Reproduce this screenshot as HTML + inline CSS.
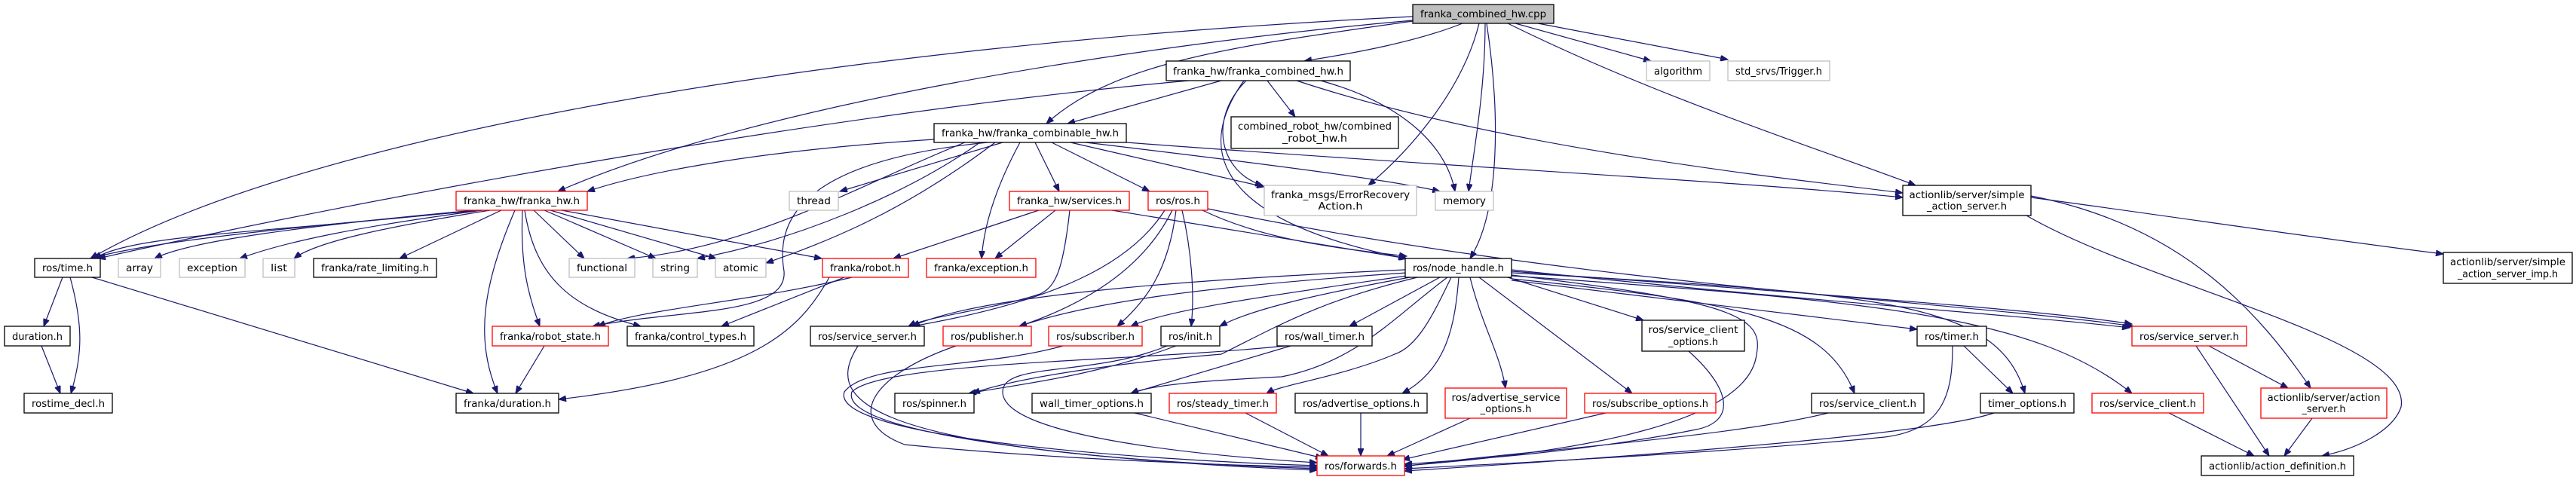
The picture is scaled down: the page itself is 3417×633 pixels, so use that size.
<!DOCTYPE html>
<html><head><meta charset="utf-8"><style>
html,body{margin:0;padding:0;background:#fff;}
svg{display:block;}
text{font-family:"DejaVu Sans","Liberation Sans",sans-serif;font-size:13px;fill:#000;}
.e{fill:none;stroke:#191970;stroke-width:1.2;marker-end:url(#a);}
.b{fill:#fff;stroke:#000;stroke-width:1.3;}
.r{fill:#fff;stroke:#ff0000;stroke-width:1.3;}
.g{fill:#fff;stroke:#bfbfbf;stroke-width:1.3;}
</style></head><body>
<svg width="3417" height="633" viewBox="0 0 3417 633" xmlns="http://www.w3.org/2000/svg">
<defs><marker id="a" markerUnits="userSpaceOnUse" markerWidth="11" markerHeight="8" refX="10" refY="4" orient="auto"><path d="M0,0 L10,4 L0,8 z" fill="#191970" stroke="#191970"/></marker></defs>
<g>
<path class="e" d="M1940,31 C1880,55 1800,70 1730,81"/>
<path class="e" d="M1874,28 C1650,60 1480,80 1388,164"/>
<path class="e" d="M1874,27 C1500,60 1000,140 740,254"/>
<path class="e" d="M1874,22 C1100,60 400,180 120,343"/>
<path class="e" d="M1962,31 C1940,120 1870,200 1815,246"/>
<path class="e" d="M1970,31 C1970,120 1955,200 1948,254"/>
<path class="e" d="M1972,31 C1990,150 1990,280 1950,343"/>
<path class="e" d="M2010,31 L2190,81"/>
<path class="e" d="M2040,31 L2292,79"/>
<path class="e" d="M2000,31 C2200,130 2420,200 2541,246"/>
<path class="e" d="M1577,107 C1100,150 500,260 130,343"/>
<path class="e" d="M1620,107 L1416,164"/>
<path class="e" d="M1681,107 L1718,155"/>
<path class="e" d="M1653,107 C1600,160 1620,230 1675,246"/>
<path class="e" d="M1650,107 C1570,220 1650,300 1865,343"/>
<path class="e" d="M1752,107 C1870,140 1920,200 1930,254"/>
<path class="e" d="M1720,107 C2000,200 2400,240 2524,256"/>
<path class="e" d="M1239,185 C1000,200 850,230 779,254"/>
<path class="e" d="M1330,189 L1114,254"/>
<path class="e" d="M1280,189 C1150,240 1000,330 832,343"/>
<path class="e" d="M1300,189 C1200,260 1050,320 925,343"/>
<path class="e" d="M1320,189 C1200,280 1100,320 1016,349"/>
<path class="e" d="M1310,189 C1050,215 1030,300 1040,360 C1045,420 900,410 786,433"/>
<path class="e" d="M1373,189 L1405,254"/>
<path class="e" d="M1353,189 C1320,250 1305,300 1302,343"/>
<path class="e" d="M1395,189 L1525,254"/>
<path class="e" d="M1420,189 L1677,248"/>
<path class="e" d="M1440,189 C1700,220 1850,240 1910,254"/>
<path class="e" d="M1494,189 C1900,220 2300,240 2524,262"/>
<path class="e" d="M640,279 C400,300 200,320 120,343"/>
<path class="e" d="M630,279 C350,310 180,310 125,343"/>
<path class="e" d="M630,279 C400,300 250,320 205,343"/>
<path class="e" d="M640,279 C480,300 380,320 318,343"/>
<path class="e" d="M650,279 C520,300 420,320 390,343"/>
<path class="e" d="M665,279 L530,343"/>
<path class="e" d="M708,279 L775,343"/>
<path class="e" d="M722,279 L870,343"/>
<path class="e" d="M730,279 L950,343"/>
<path class="e" d="M745,279 L1090,343"/>
<path class="e" d="M693,279 C690,350 700,390 716,433"/>
<path class="e" d="M696,279 C710,370 760,410 850,433"/>
<path class="e" d="M683,279 C640,380 630,450 660,522"/>
<path class="e" d="M83,368 L58,433"/>
<path class="e" d="M93,368 C110,430 110,470 94,522"/>
<path class="e" d="M122,368 L628,522"/>
<path class="e" d="M55,459 L80,522"/>
<path class="e" d="M722,459 L684,522"/>
<path class="e" d="M1130,368 C1000,400 850,410 793,433"/>
<path class="e" d="M1120,368 L957,433"/>
<path class="e" d="M1100,368 C1060,440 1000,500 741,530"/>
<path class="e" d="M1378,279 L1185,343"/>
<path class="e" d="M1400,279 L1320,343"/>
<path class="e" d="M1419,279 C1410,360 1400,380 1380,390 C1320,410 1230,420 1205,433"/>
<path class="e" d="M1475,279 L1866,343"/>
<path class="e" d="M1545,279 C1500,350 1400,400 1210,433"/>
<path class="e" d="M1555,279 C1520,350 1450,400 1352,433"/>
<path class="e" d="M1560,279 C1550,360 1520,400 1482,433"/>
<path class="e" d="M1568,279 C1580,330 1585,390 1580,433"/>
<path class="e" d="M1595,279 C1680,320 1780,330 1866,340"/>
<path class="e" d="M1602,277 C2100,380 2600,400 2830,433"/>
<path class="e" d="M1864,358 C1600,370 1300,390 1210,433"/>
<path class="e" d="M1866,362 C1600,380 1450,400 1352,433"/>
<path class="e" d="M1866,366 C1700,390 1550,410 1500,433"/>
<path class="e" d="M1870,368 C1750,390 1660,410 1618,433"/>
<path class="e" d="M1880,368 C1750,400 1700,430 1620,470 C1500,480 1350,500 1290,522"/>
<path class="e" d="M1910,368 L1790,433"/>
<path class="e" d="M1920,368 C1850,420 1800,480 1700,500 C1600,505 1530,510 1500,522"/>
<path class="e" d="M1925,368 C1900,420 1880,460 1850,470 C1780,500 1700,510 1680,522"/>
<path class="e" d="M1935,368 C1930,430 1920,490 1860,522"/>
<path class="e" d="M1950,368 C1965,430 1990,470 1997,515"/>
<path class="e" d="M1962,368 L2165,522"/>
<path class="e" d="M2000,368 L2180,425"/>
<path class="e" d="M2005,365 C2300,400 2340,420 2330,470 C2320,560 2100,600 1863,618"/>
<path class="e" d="M2005,370 C2300,400 2420,420 2460,522"/>
<path class="e" d="M2005,372 L2543,437"/>
<path class="e" d="M2005,362 C2500,390 2650,400 2686,522"/>
<path class="e" d="M2005,358 C2400,400 2700,420 2825,435"/>
<path class="e" d="M2005,360 C2400,390 2700,410 2828,430"/>
<path class="e" d="M2005,366 C2500,400 2700,420 2828,522"/>
<path class="e" d="M1268,459 C1150,500 1120,560 1200,590 C1400,610 1650,618 1747,620"/>
<path class="e" d="M1410,459 C1300,490 1150,480 1120,520 C1100,580 1500,610 1747,618"/>
<path class="e" d="M1138,459 C1100,520 1100,600 1747,622"/>
<path class="e" d="M1548,459 C1450,500 1330,480 1330,520 C1330,580 1600,605 1747,614"/>
<path class="e" d="M1560,459 C1450,500 1350,510 1285,522"/>
<path class="e" d="M1712,459 L1500,522"/>
<path class="e" d="M1705,459 C1500,480 1170,480 1130,520 C1110,580 1500,615 1747,624"/>
<path class="e" d="M1505,548 L1755,608"/>
<path class="e" d="M1652,548 L1762,605"/>
<path class="e" d="M1805,548 L1805,605"/>
<path class="e" d="M1950,555 L1840,605"/>
<path class="e" d="M2130,548 L1860,610"/>
<path class="e" d="M2240,466 C2300,520 2300,560 2250,570 C2100,600 1950,610 1863,616"/>
<path class="e" d="M2425,548 C2300,580 2000,600 1863,619"/>
<path class="e" d="M2590,459 C2590,520 2580,570 2500,580 C2300,600 2000,615 1863,622"/>
<path class="e" d="M2645,548 C2550,580 2100,610 1863,625"/>
<path class="e" d="M2605,459 L2670,522"/>
<path class="e" d="M2930,459 L3035,515"/>
<path class="e" d="M2913,459 L3010,605"/>
<path class="e" d="M2877,548 L2990,605"/>
<path class="e" d="M3067,555 L3030,605"/>
<path class="e" d="M2694,262 C2900,290 3100,320 3241,337"/>
<path class="e" d="M2694,260 C2900,300 3000,420 3065,515"/>
<path class="e" d="M2688,286 C2850,380 3200,450 3185,540 C3175,570 3130,595 3080,605"/>
</g>
<g>
<rect x="1874" y="6" width="187" height="25" fill="#bfbfbf" stroke="#000" stroke-width="1.3"/><text x="1967.5" y="23" text-anchor="middle" textLength="167" lengthAdjust="spacingAndGlyphs">franka_combined_hw.cpp</text>
<rect class="b" x="1547" y="81" width="244" height="26"/><text x="1669" y="99" text-anchor="middle" textLength="226" lengthAdjust="spacingAndGlyphs">franka_hw/franka_combined_hw.h</text>
<rect class="b" x="1633" y="155" width="222" height="42"/><text x="1744" y="172" text-anchor="middle" textLength="204" lengthAdjust="spacingAndGlyphs">combined_robot_hw/combined</text><text x="1744" y="188" text-anchor="middle" textLength="86" lengthAdjust="spacingAndGlyphs">_robot_hw.h</text>
<rect class="b" x="1239" y="164" width="255" height="25"/><text x="1366.5" y="181" text-anchor="middle" textLength="235" lengthAdjust="spacingAndGlyphs">franka_hw/franka_combinable_hw.h</text>
<rect class="r" x="605" y="254" width="174" height="25"/><text x="692" y="271" text-anchor="middle" textLength="154" lengthAdjust="spacingAndGlyphs">franka_hw/franka_hw.h</text>
<rect class="g" x="1047" y="254" width="65" height="25"/><text x="1079.5" y="271" text-anchor="middle" textLength="45" lengthAdjust="spacingAndGlyphs">thread</text>
<rect class="r" x="1339" y="254" width="159" height="25"/><text x="1418.5" y="271" text-anchor="middle" textLength="139" lengthAdjust="spacingAndGlyphs">franka_hw/services.h</text>
<rect class="r" x="1523" y="254" width="79" height="25"/><text x="1562.5" y="271" text-anchor="middle" textLength="59" lengthAdjust="spacingAndGlyphs">ros/ros.h</text>
<rect class="g" x="1677" y="246" width="202" height="40"/><text x="1778" y="263" text-anchor="middle" textLength="184" lengthAdjust="spacingAndGlyphs">franka_msgs/ErrorRecovery</text><text x="1778" y="278" text-anchor="middle" textLength="59" lengthAdjust="spacingAndGlyphs">Action.h</text>
<rect class="g" x="1904" y="254" width="77" height="25"/><text x="1942.5" y="271" text-anchor="middle" textLength="57" lengthAdjust="spacingAndGlyphs">memory</text>
<rect class="b" x="2524" y="246" width="170" height="40"/><text x="2609" y="263" text-anchor="middle" textLength="153" lengthAdjust="spacingAndGlyphs">actionlib/server/simple</text><text x="2609" y="278" text-anchor="middle" textLength="106" lengthAdjust="spacingAndGlyphs">_action_server.h</text>
<rect class="g" x="2184" y="81" width="84" height="26"/><text x="2226" y="99" text-anchor="middle" textLength="64" lengthAdjust="spacingAndGlyphs">algorithm</text>
<rect class="g" x="2292" y="81" width="135" height="26"/><text x="2359.5" y="99" text-anchor="middle" textLength="115" lengthAdjust="spacingAndGlyphs">std_srvs/Trigger.h</text>
<rect class="b" x="46" y="343" width="87" height="25"/><text x="89.5" y="360" text-anchor="middle" textLength="67" lengthAdjust="spacingAndGlyphs">ros/time.h</text>
<rect class="g" x="157" y="343" width="56" height="25"/><text x="185" y="360" text-anchor="middle" textLength="36" lengthAdjust="spacingAndGlyphs">array</text>
<rect class="g" x="238" y="343" width="87" height="25"/><text x="281.5" y="360" text-anchor="middle" textLength="67" lengthAdjust="spacingAndGlyphs">exception</text>
<rect class="g" x="349" y="343" width="42" height="25"/><text x="370" y="360" text-anchor="middle" textLength="22" lengthAdjust="spacingAndGlyphs">list</text>
<rect class="b" x="416" y="343" width="163" height="25"/><text x="497.5" y="360" text-anchor="middle" textLength="143" lengthAdjust="spacingAndGlyphs">franka/rate_limiting.h</text>
<rect class="g" x="755" y="343" width="87" height="25"/><text x="798.5" y="360" text-anchor="middle" textLength="67" lengthAdjust="spacingAndGlyphs">functional</text>
<rect class="g" x="866" y="343" width="59" height="25"/><text x="895.5" y="360" text-anchor="middle" textLength="39" lengthAdjust="spacingAndGlyphs">string</text>
<rect class="g" x="949" y="343" width="67" height="25"/><text x="982.5" y="360" text-anchor="middle" textLength="47" lengthAdjust="spacingAndGlyphs">atomic</text>
<rect class="r" x="1091" y="343" width="114" height="25"/><text x="1148" y="360" text-anchor="middle" textLength="94" lengthAdjust="spacingAndGlyphs">franka/robot.h</text>
<rect class="r" x="1229" y="343" width="145" height="25"/><text x="1301.5" y="360" text-anchor="middle" textLength="125" lengthAdjust="spacingAndGlyphs">franka/exception.h</text>
<rect class="b" x="1864" y="343" width="141" height="25"/><text x="1934.5" y="360" text-anchor="middle" textLength="121" lengthAdjust="spacingAndGlyphs">ros/node_handle.h</text>
<rect class="b" x="3241" y="335" width="171" height="41"/><text x="3326.5" y="352" text-anchor="middle" textLength="153" lengthAdjust="spacingAndGlyphs">actionlib/server/simple</text><text x="3326.5" y="368" text-anchor="middle" textLength="133" lengthAdjust="spacingAndGlyphs">_action_server_imp.h</text>
<rect class="b" x="6" y="433" width="87" height="26"/><text x="49.5" y="451" text-anchor="middle" textLength="67" lengthAdjust="spacingAndGlyphs">duration.h</text>
<rect class="r" x="653" y="433" width="154" height="26"/><text x="730" y="451" text-anchor="middle" textLength="134" lengthAdjust="spacingAndGlyphs">franka/robot_state.h</text>
<rect class="b" x="832" y="433" width="168" height="26"/><text x="916" y="451" text-anchor="middle" textLength="148" lengthAdjust="spacingAndGlyphs">franka/control_types.h</text>
<rect class="b" x="1075" y="433" width="151" height="26"/><text x="1150.5" y="451" text-anchor="middle" textLength="131" lengthAdjust="spacingAndGlyphs">ros/service_server.h</text>
<rect class="r" x="1251" y="433" width="117" height="26"/><text x="1309.5" y="451" text-anchor="middle" textLength="97" lengthAdjust="spacingAndGlyphs">ros/publisher.h</text>
<rect class="r" x="1391" y="433" width="124" height="26"/><text x="1453" y="451" text-anchor="middle" textLength="104" lengthAdjust="spacingAndGlyphs">ros/subscriber.h</text>
<rect class="b" x="1540" y="433" width="78" height="26"/><text x="1579" y="451" text-anchor="middle" textLength="58" lengthAdjust="spacingAndGlyphs">ros/init.h</text>
<rect class="b" x="1694" y="433" width="126" height="26"/><text x="1757" y="451" text-anchor="middle" textLength="106" lengthAdjust="spacingAndGlyphs">ros/wall_timer.h</text>
<rect class="b" x="2178" y="425" width="136" height="41"/><text x="2246" y="442" text-anchor="middle" textLength="119" lengthAdjust="spacingAndGlyphs">ros/service_client</text><text x="2246" y="458" text-anchor="middle" textLength="66" lengthAdjust="spacingAndGlyphs">_options.h</text>
<rect class="b" x="2543" y="433" width="92" height="26"/><text x="2589" y="451" text-anchor="middle" textLength="72" lengthAdjust="spacingAndGlyphs">ros/timer.h</text>
<rect class="r" x="2828" y="433" width="152" height="26"/><text x="2904" y="451" text-anchor="middle" textLength="132" lengthAdjust="spacingAndGlyphs">ros/service_server.h</text>
<rect class="b" x="32" y="522" width="117" height="26"/><text x="90.5" y="540" text-anchor="middle" textLength="97" lengthAdjust="spacingAndGlyphs">rostime_decl.h</text>
<rect class="b" x="605" y="522" width="136" height="26"/><text x="673" y="540" text-anchor="middle" textLength="116" lengthAdjust="spacingAndGlyphs">franka/duration.h</text>
<rect class="b" x="1187" y="522" width="105" height="26"/><text x="1239.5" y="540" text-anchor="middle" textLength="85" lengthAdjust="spacingAndGlyphs">ros/spinner.h</text>
<rect class="b" x="1369" y="522" width="158" height="26"/><text x="1448" y="540" text-anchor="middle" textLength="138" lengthAdjust="spacingAndGlyphs">wall_timer_options.h</text>
<rect class="r" x="1551" y="522" width="142" height="26"/><text x="1622" y="540" text-anchor="middle" textLength="122" lengthAdjust="spacingAndGlyphs">ros/steady_timer.h</text>
<rect class="b" x="1718" y="522" width="175" height="26"/><text x="1805.5" y="540" text-anchor="middle" textLength="155" lengthAdjust="spacingAndGlyphs">ros/advertise_options.h</text>
<rect class="r" x="1917" y="515" width="161" height="40"/><text x="1997.5" y="532" text-anchor="middle" textLength="144" lengthAdjust="spacingAndGlyphs">ros/advertise_service</text><text x="1997.5" y="547" text-anchor="middle" textLength="68" lengthAdjust="spacingAndGlyphs">_options.h</text>
<rect class="r" x="2102" y="522" width="174" height="26"/><text x="2189" y="540" text-anchor="middle" textLength="154" lengthAdjust="spacingAndGlyphs">ros/subscribe_options.h</text>
<rect class="b" x="2403" y="522" width="149" height="26"/><text x="2477.5" y="540" text-anchor="middle" textLength="129" lengthAdjust="spacingAndGlyphs">ros/service_client.h</text>
<rect class="b" x="2627" y="522" width="124" height="26"/><text x="2689" y="540" text-anchor="middle" textLength="104" lengthAdjust="spacingAndGlyphs">timer_options.h</text>
<rect class="r" x="2775" y="522" width="148" height="26"/><text x="2849" y="540" text-anchor="middle" textLength="128" lengthAdjust="spacingAndGlyphs">ros/service_client.h</text>
<rect class="r" x="2999" y="515" width="167" height="40"/><text x="3082.5" y="532" text-anchor="middle" textLength="150" lengthAdjust="spacingAndGlyphs">actionlib/server/action</text><text x="3082.5" y="547" text-anchor="middle" textLength="58" lengthAdjust="spacingAndGlyphs">_server.h</text>
<rect class="r" x="1747" y="605" width="116" height="26"/><text x="1805" y="623" text-anchor="middle" textLength="96" lengthAdjust="spacingAndGlyphs">ros/forwards.h</text>
<rect class="b" x="2920" y="605" width="202" height="26"/><text x="3021" y="623" text-anchor="middle" textLength="182" lengthAdjust="spacingAndGlyphs">actionlib/action_definition.h</text>
</g>
</svg>
</body></html>
